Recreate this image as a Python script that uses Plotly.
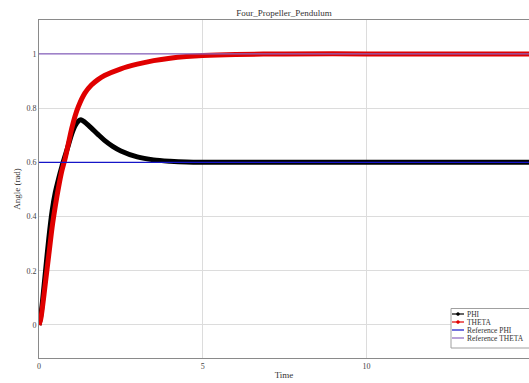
import plotly.graph_objects as go

# ---- data ----
time_theta = [0, 0.05, 0.1, 0.2, 0.3, 0.4, 0.5, 0.6, 0.7, 0.8, 0.9, 1.0, 1.1, 1.2, 1.4, 1.6, 1.8,
              2.0, 2.5, 3.0, 3.5, 4.0, 4.5, 5.0, 6.0, 7.5, 10.0, 15.0]
theta = [0, 0.02, 0.06, 0.16, 0.26, 0.36, 0.44, 0.51, 0.57, 0.615, 0.67, 0.725, 0.77, 0.805, 0.855, 0.885, 0.905,
         0.92, 0.945, 0.962, 0.975, 0.984, 0.99, 0.994, 0.998, 1.0, 1.0, 1.0]

time_phi = [0, 0.05, 0.1, 0.2, 0.3, 0.4, 0.5, 0.6, 0.7, 0.8, 0.9, 1.0, 1.1, 1.2, 1.28, 1.4, 1.6, 1.8,
            2.0, 2.25, 2.5, 3.0, 3.5, 4.0, 4.5, 5.0, 7.0, 10.0, 15.0]
phi = [0, 0.03, 0.08, 0.2, 0.32, 0.42, 0.49, 0.54, 0.585, 0.625, 0.665, 0.705, 0.735, 0.752, 0.757, 0.748, 0.726, 0.703,
       0.681, 0.659, 0.642, 0.62, 0.609, 0.604, 0.601, 0.6, 0.6, 0.6, 0.6]

time_ref = [0, 15]
ref_phi = [0.6, 0.6]
ref_theta = [1.0, 1.0]

names = ["PHI", "THETA", "Reference PHI", "Reference THETA"]
colors = ["#000000", "#e00000", "#1515c8", "#8a64c0"]

x_ticks = [0, 5, 10, 15]
y_ticks = [0, 0.2, 0.4, 0.6, 0.8, 1]
y_tick_labels = ["0", "0.2", "0.4", "0.6", "0.8", "1"]

FONT = "Liberation Serif, Times New Roman, serif"

fig = go.Figure()
fig.add_trace(go.Scatter(x=time_phi, y=phi, mode="lines", name=names[0],
                         line=dict(color=colors[0], width=5, shape="spline", smoothing=0.8)))
fig.add_trace(go.Scatter(x=time_theta, y=theta, mode="lines", name=names[1],
                         line=dict(color=colors[1], width=5, shape="spline", smoothing=0.8)))
fig.add_trace(go.Scatter(x=time_ref, y=ref_phi, mode="lines", name=names[2],
                         line=dict(color=colors[2], width=1.2)))
fig.add_trace(go.Scatter(x=time_ref, y=ref_theta, mode="lines", name=names[3],
                         line=dict(color=colors[3], width=1.2)))

W, H = 529, 383
ml, mr, mt, mb = 39, 0, 20, 25
pw, ph = W - ml - mr, H - mt - mb


def px(x):
    return (x - ml) / pw


def py(y):
    return (H - mb - y) / ph


# manual compact legend
shapes = [dict(type="rect", xref="paper", yref="paper",
               x0=px(451), x1=px(531), y0=py(348), y1=py(308.5),
               line=dict(color="#a0a0a0", width=1), fillcolor="white", layer="above")]
annotations = []
rows = [314, 322, 330, 338]
for i, (nm, c, r) in enumerate(zip(names, colors, rows)):
    shapes.append(dict(type="line", xref="paper", yref="paper",
                       x0=px(452), x1=px(464), y0=py(r), y1=py(r),
                       line=dict(color=c, width=1.2), layer="above"))
    if i < 2:
        shapes.append(dict(type="circle", xref="paper", yref="paper",
                           x0=px(456.5), x1=px(459.5), y0=py(r + 1.5), y1=py(r - 1.5),
                           line=dict(color=c, width=0.5), fillcolor=c, layer="above"))
    annotations.append(dict(text=nm, xref="paper", yref="paper", x=px(464.5), y=py(r),
                            xanchor="left", yanchor="middle", showarrow=False,
                            font=dict(family=FONT, size=7.5, color="#333333")))

fig.update_layout(
    width=W, height=H,
    margin=dict(l=ml, r=mr, t=mt, b=mb, pad=0),
    paper_bgcolor="white", plot_bgcolor="white",
    showlegend=False,
    title=dict(text="Four_Propeller_Pendulum", x=(ml + W - mr) / 2 / W, xanchor="center",
               y=1 - 13 / H, yanchor="middle",
               font=dict(family=FONT, size=9, color="#333333")),
    font=dict(family=FONT, size=8, color="#444444"),
    shapes=shapes,
    annotations=annotations,
)
fig.update_xaxes(range=[0, 14.96], tickvals=x_ticks, ticktext=[str(v) for v in x_ticks],
                 showgrid=True, gridcolor="#dcdcdc", gridwidth=1,
                 showline=True, linecolor="#8a8a8a", linewidth=1, mirror=True,
                 zeroline=False, ticks="", ticklen=0,
                 tickfont=dict(family=FONT, size=8, color="#444444"),
                 title=dict(text="Time", standoff=2, font=dict(family=FONT, size=9, color="#333333")))
fig.update_yaxes(range=[-0.122, 1.125], tickvals=y_ticks, ticktext=y_tick_labels,
                 showgrid=True, gridcolor="#dcdcdc", gridwidth=1,
                 showline=True, linecolor="#8a8a8a", linewidth=1, mirror=True,
                 zeroline=False, ticks="", ticklen=0,
                 tickfont=dict(family=FONT, size=8, color="#444444"),
                 title=dict(text="Angle (rad)", standoff=4, font=dict(family=FONT, size=9, color="#333333")))

fig.write_html("out.html", config={"displayModeBar": False},
               post_script="document.body.style.margin='0';document.body.style.padding='0';"
                           "document.body.style.overflow='hidden';")
